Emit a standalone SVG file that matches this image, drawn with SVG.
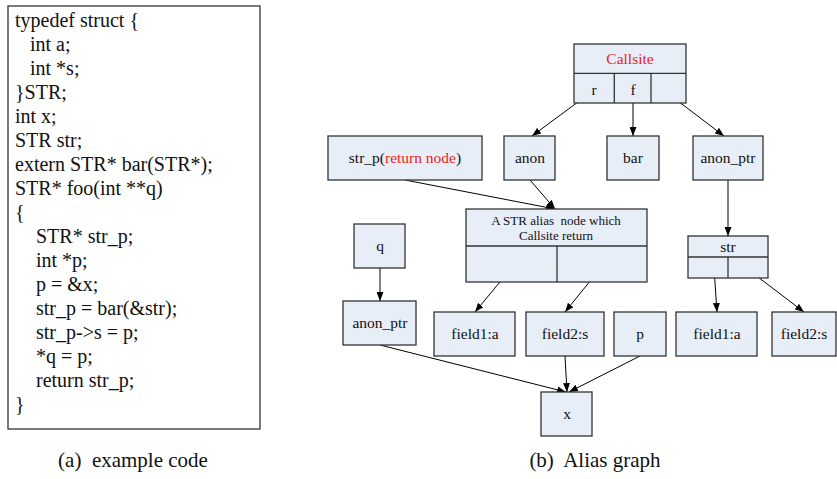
<svg xmlns="http://www.w3.org/2000/svg" width="837" height="479" viewBox="0 0 837 479">
<style>
.bg{fill:#ffffff}
.code{font-family:"Liberation Serif","Times New Roman",serif;font-size:20px;fill:#111}
.cap{font-family:"Liberation Serif","Times New Roman",serif;font-size:21px;fill:#111;text-anchor:middle;white-space:pre}
.n rect,.n line{stroke:#333;stroke-width:1.3}
.n rect{fill:#e8eef8}
.t{font-family:"Liberation Serif","Times New Roman",serif;font-size:15.5px;fill:#111;text-anchor:middle}
.s{font-size:13px;white-space:pre}
.red{fill:#ee1c1c}
.e line{stroke:#000;stroke-width:1;marker-end:url(#ah)}
</style>
<defs>
<marker id="ah" markerUnits="userSpaceOnUse" markerWidth="9" markerHeight="7" refX="9" refY="3.5" orient="auto">
<path d="M0,0 L9,3.5 L0,7 z" fill="#000"/>
</marker>
</defs>
<rect class="bg" x="0" y="0" width="837" height="479"/>
<g id="code">
<rect x="8" y="6" width="252" height="423" fill="#fff" stroke="#333" stroke-width="1.3"/>
<text class="code" x="15" y="27">typedef struct {</text>
<text class="code" x="30" y="51">int a;</text>
<text class="code" x="30" y="75">int *s;</text>
<text class="code" x="15" y="99">}STR;</text>
<text class="code" x="15" y="123">int x;</text>
<text class="code" x="15" y="147">STR str;</text>
<text class="code" x="15" y="171">extern STR* bar(STR*);</text>
<text class="code" x="15" y="195">STR* foo(int **q)</text>
<text class="code" x="15" y="219">{</text>
<text class="code" x="36" y="243">STR* str_p;</text>
<text class="code" x="36" y="267">int *p;</text>
<text class="code" x="36" y="291">p = &amp;x;</text>
<text class="code" x="36" y="315">str_p = bar(&amp;str);</text>
<text class="code" x="36" y="339">str_p-&gt;s = p;</text>
<text class="code" x="36" y="363">*q = p;</text>
<text class="code" x="36" y="387">return str_p;</text>
<text class="code" x="15" y="411">}</text>
</g>
<text class="cap" x="133" y="467">(a)  example code</text>
<text class="cap" x="595" y="467">(b)  Alias graph</text>
<g class="e" id="connectors">
<line x1="582" y1="99" x2="532" y2="136"/>
<line x1="633" y1="97" x2="633" y2="136"/>
<line x1="670" y1="95" x2="724" y2="136"/>
<line x1="405" y1="180" x2="555" y2="209"/>
<line x1="530" y1="180" x2="555" y2="209"/>
<line x1="728" y1="180" x2="728" y2="236"/>
<line x1="509" y1="271" x2="475" y2="312"/>
<line x1="604" y1="264" x2="565" y2="312"/>
<line x1="714" y1="268" x2="717" y2="312"/>
<line x1="750" y1="271" x2="804" y2="312"/>
<line x1="380" y1="268" x2="380" y2="301"/>
<line x1="380" y1="345" x2="566" y2="392"/>
<line x1="565" y1="356" x2="567" y2="392"/>
<line x1="640" y1="356" x2="569" y2="392"/>
</g>
<g class="n" id="callsite">
<rect x="574" y="44" width="112" height="59"/>
<line x1="574" y1="73.3" x2="686" y2="73.3"/>
<line x1="614.3" y1="73.3" x2="614.3" y2="103"/>
<line x1="651" y1="73.3" x2="651" y2="103"/>
<text class="t red" x="630" y="64">Callsite</text>
<text class="t" x="594" y="95">r</text>
<text class="t" x="633" y="95">f</text>
</g>
<g class="n" id="str_p">
<rect x="328" y="136" width="154" height="44"/>
<text class="t" x="405" y="163">str_p(<tspan class="red">return node</tspan>)</text>
</g>
<g class="n" id="anon">
<rect x="504" y="136" width="51" height="44"/>
<text class="t" x="530" y="163">anon</text>
</g>
<g class="n" id="bar">
<rect x="607" y="136" width="52" height="44"/>
<text class="t" x="633" y="163">bar</text>
</g>
<g class="n" id="anon_ptr_top">
<rect x="693" y="136" width="70" height="44"/>
<text class="t" x="728" y="163">anon_ptr</text>
</g>
<g class="n" id="alias">
<rect x="466" y="209" width="181" height="73"/>
<line x1="466" y1="246" x2="647" y2="246"/>
<line x1="557" y1="246" x2="557" y2="282"/>
<text class="t s" x="556" y="224.5">A STR alias  node which</text>
<text class="t s" x="556" y="239.5">Callsite return</text>
</g>
<g class="n" id="q">
<rect x="354" y="224" width="51" height="44"/>
<text class="t" x="380" y="251">q</text>
</g>
<g class="n" id="str">
<rect x="688" y="236" width="80" height="42"/>
<line x1="688" y1="257" x2="768" y2="257"/>
<line x1="728" y1="257" x2="728" y2="278"/>
<text class="t" x="728" y="252">str</text>
</g>
<g class="n" id="anon_ptr_left">
<rect x="343" y="301" width="73" height="44"/>
<text class="t" x="380" y="328">anon_ptr</text>
</g>
<g class="n" id="field1_a">
<rect x="434" y="312" width="81" height="44"/>
<text class="t" x="475" y="339">field1:a</text>
</g>
<g class="n" id="field2_s">
<rect x="526" y="312" width="78" height="44"/>
<text class="t" x="565" y="339">field2:s</text>
</g>
<g class="n" id="p">
<rect x="614" y="312" width="52" height="44"/>
<text class="t" x="640" y="339">p</text>
</g>
<g class="n" id="field1_a_r">
<rect x="676" y="312" width="81" height="44"/>
<text class="t" x="717" y="339">field1:a</text>
</g>
<g class="n" id="field2_s_r">
<rect x="772" y="312" width="64" height="44"/>
<text class="t" x="804" y="339">field2:s</text>
</g>
<g class="n" id="x">
<rect x="541" y="392" width="51" height="44"/>
<text class="t" x="567" y="419">x</text>
</g>
</svg>
